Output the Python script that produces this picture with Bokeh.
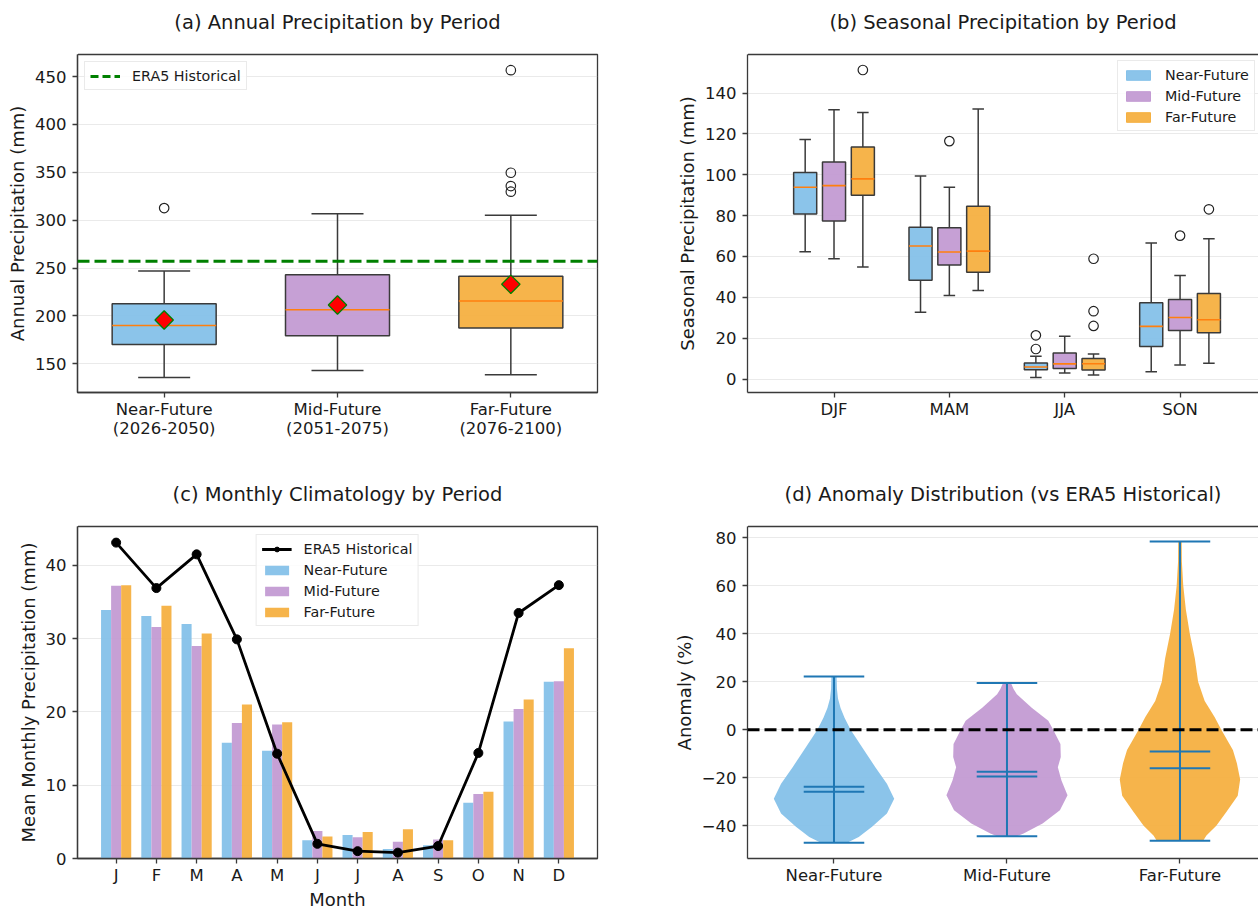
import numpy as np
from bokeh.plotting import figure
from bokeh.models import Range1d, FixedTicker, Legend, LegendItem, LinearAxis, Span
from bokeh.layouts import column, row
from bokeh.embed import file_html
from bokeh.resources import INLINE

FONT = "DejaVu Sans"
TXT = "#1a1a1a"
EDGE = "#3a3a3a"
C_NEAR, C_MID, C_FAR = "#85C1E9", "#C39BD3", "#F5B041"
COLORS = [C_NEAR, C_MID, C_FAR]
MEDIAN_C = "#ff7f0e"
VIOLIN_LINE = "#1f77b4"

# ---------------- data: (a) annual precipitation ----------------
periods = ["Near-Future", "Mid-Future", "Far-Future"]
period_years = ["(2026-2050)", "(2051-2075)", "(2076-2100)"]
annual_low = [135.7, 143.0, 138.5]
annual_q1 = [170.0, 179.3, 187.4]
annual_med = [190.0, 206.5, 215.6]
annual_q3 = [212.8, 243.0, 241.4]
annual_high = [247.0, 306.6, 305.2]
annual_mean = [195.7, 211.4, 233.0]
annual_outliers = [[312.6], [], [329.7, 335.6, 349.5, 456.6]]
era5_annual = 257.0
annual_ticks = [150, 200, 250, 300, 350, 400, 450]

# ---------------- data: (b) seasonal precipitation ----------------
seasons = ["DJF", "MAM", "JJA", "SON"]
near_low = [62.3, 32.7, 0.8, 3.6]
near_q1 = [80.8, 48.4, 4.6, 15.9]
near_med = [93.9, 65.1, 5.9, 25.8]
near_q3 = [101.1, 74.3, 7.9, 37.3]
near_high = [117.3, 99.4, 11.1, 66.6]
near_out = [[], [], [14.7, 21.4], []]
mid_low = [58.9, 40.9, 2.9, 6.9]
mid_q1 = [77.4, 55.8, 5.1, 23.7]
mid_med = [94.7, 62.2, 7.4, 30.1]
mid_q3 = [106.3, 74.1, 12.8, 38.9]
mid_high = [131.8, 93.9, 20.9, 50.7]
mid_out = [[], [116.5], [], [70.2]]
far_low = [54.8, 43.3, 2.0, 7.7]
far_q1 = [90.0, 52.3, 4.4, 22.7]
far_med = [98.0, 62.6, 7.5, 29.0]
far_q3 = [113.6, 84.6, 10.0, 41.9]
far_high = [130.5, 132.2, 12.3, 68.7]
far_out = [[151.3], [], [26.0, 33.2, 58.9], [83.1]]
seasonal_ticks = [0, 20, 40, 60, 80, 100, 120, 140]

# ---------------- data: (c) monthly climatology ----------------
months = ["J", "F", "M", "A", "M", "J", "J", "A", "S", "O", "N", "D"]
era5_monthly = [43.1, 36.9, 41.5, 29.9, 14.3, 2.0, 1.0, 0.8, 1.7, 14.4, 33.5, 37.3]
near_monthly = [33.9, 33.1, 32.0, 15.8, 14.7, 2.5, 3.2, 1.3, 1.8, 7.6, 18.7, 24.1]
mid_monthly = [37.2, 31.6, 29.0, 18.5, 18.3, 3.75, 2.9, 2.3, 2.6, 8.8, 20.4, 24.2]
far_monthly = [37.3, 34.5, 30.7, 21.0, 18.6, 3.0, 3.6, 4.0, 2.5, 9.1, 21.7, 28.7]
monthly_ticks = [0, 10, 20, 30, 40]

# ---------------- data: (d) anomaly distribution ----------------
anom_min = [-47.0, -44.3, -46.2]
anom_max = [22.2, 19.5, 78.4]
anom_mean = [-23.7, -17.5, -9.1]
anom_median = [-25.8, -19.5, -16.0]
# violin outlines: levels (%) and half widths (x units)
near_levels = [22.2, 17.0, 13.0, 9.0, 5.0, 0.0, -8.7, -15.6, -22.5, -28.7, -34.9, -40.4, -44.6, -47.0]
near_half = [0.015, 0.017, 0.023, 0.038, 0.061, 0.096, 0.176, 0.239, 0.306, 0.348, 0.306, 0.220, 0.143, 0.076]
mid_levels = [19.5, 17.0, 14.8, 9.2, 3.7, 0.0, -5.9, -11.4, -15.6, -21.1, -27.3, -33.5, -39.0, -43.2, -44.3]
mid_half = [0.023, 0.038, 0.057, 0.143, 0.239, 0.267, 0.309, 0.311, 0.294, 0.315, 0.350, 0.306, 0.206, 0.096, 0.057]
far_levels = [78.4, 70.0, 60.0, 50.0, 40.0, 29.7, 20.0, 12.0, 5.2, 0.0, -8.4, -13.9, -20.7, -27.5, -34.3, -40.0, -44.0, -46.2]
far_half = [0.010, 0.011, 0.019, 0.034, 0.057, 0.086, 0.105, 0.143, 0.201, 0.239, 0.306, 0.329, 0.348, 0.334, 0.267, 0.210, 0.153, 0.134]
anomaly_ticks = [-40, -20, 0, 20, 40, 60, 80]


def minus(v):
    return str(v).replace("-", "\u2212")


def style(p):
    p.outline_line_color = EDGE
    p.outline_line_width = 1.3
    p.background_fill_color = "white"
    p.border_fill_color = "white"
    p.title.text_font = FONT
    p.title.text_font_size = "19.5px"
    p.title.text_font_style = "normal"
    p.title.text_color = TXT
    p.title.align = "center"
    p.title.standoff = 10
    for ax in p.axis:
        ax.major_label_text_font = FONT
        ax.major_label_text_font_size = "16.5px"
        ax.major_label_text_color = TXT
        ax.axis_label_text_font = FONT
        ax.axis_label_text_font_size = "18px"
        ax.axis_label_text_font_style = "normal"
        ax.axis_label_text_color = TXT
        ax.axis_line_color = EDGE
        ax.axis_line_width = 1.3
        ax.major_tick_line_color = EDGE
        ax.major_tick_line_width = 1.3
        ax.major_tick_out = 5
        ax.major_tick_in = 0
        ax.minor_tick_line_color = None
        ax.major_label_standoff = 6
        ax.axis_label_standoff = 4
    p.xgrid.visible = False
    p.ygrid.grid_line_color = "#d0d0d0"
    p.ygrid.grid_line_alpha = 0.45
    p.ygrid.grid_line_width = 1.2


def legend_style(lg):
    lg.label_text_font = FONT
    lg.label_text_font_size = "14.3px"
    lg.label_text_color = TXT
    lg.glyph_width = 30
    lg.glyph_height = 12
    lg.label_height = 17
    lg.label_standoff = 12
    lg.spacing = 4
    lg.padding = 5
    lg.border_line_color = "#d5d5d5"
    lg.border_line_width = 1
    lg.background_fill_alpha = 0.85


def top_edge(p, draw_line):
    # blank axis above the frame: one white 16px tick at the left edge keeps the
    # title clear of the frame; it also draws the top frame edge where the right
    # edge of the panel is cut off
    start = p.x_range.start
    ax = LinearAxis(ticker=FixedTicker(ticks=[start]), major_label_overrides={start: ""},
                    major_label_text_font_size="0px", major_label_standoff=0,
                    major_tick_out=16, major_tick_in=0,
                    major_tick_line_color="white", major_tick_line_width=1,
                    minor_tick_line_color=None,
                    axis_line_color=EDGE if draw_line else None, axis_line_width=1.3)
    p.add_layout(ax, "above")
    return ax


TOP_H, BOT_H = 460, 452
LEFT_W, RIGHT_W = 670, 588
NAN1 = [np.nan]

# ======================= (a) =======================
pa = figure(width=LEFT_W, height=TOP_H, output_backend="svg", toolbar_location=None,
            title="(a) Annual Precipitation by Period",
            x_range=Range1d(0.5, 3.5), y_range=Range1d(120, 473),
            min_border_left=77, min_border_right=73, min_border_top=54, min_border_bottom=68)
xa = [1, 2, 3]
pa.add_layout(Span(location=era5_annual, dimension="width", line_color="green",
                   line_width=3, line_dash="12 5"))
era5_key = pa.line(x=NAN1 * 2, y=NAN1 * 2, line_color="green", line_width=3, line_dash="8 4")
pa.segment(x0=xa, y0=annual_low, x1=xa, y1=annual_q1, line_color=EDGE, line_width=1.5)
pa.segment(x0=xa, y0=annual_q3, x1=xa, y1=annual_high, line_color=EDGE, line_width=1.5)
pa.segment(x0=[x - 0.15 for x in xa], y0=annual_low, x1=[x + 0.15 for x in xa], y1=annual_low,
           line_color=EDGE, line_width=1.5)
pa.segment(x0=[x - 0.15 for x in xa], y0=annual_high, x1=[x + 0.15 for x in xa], y1=annual_high,
           line_color=EDGE, line_width=1.5)
pa.vbar(x=xa, bottom=annual_q1, top=annual_q3, width=0.6, fill_color=COLORS, fill_alpha=0.95,
        line_color=EDGE, line_width=1.5)
pa.segment(x0=[x - 0.3 for x in xa], y0=annual_med, x1=[x + 0.3 for x in xa], y1=annual_med,
           line_color=MEDIAN_C, line_width=1.6)
ox, oy = [], []
for x, outs in zip(xa, annual_outliers):
    for v in outs:
        ox.append(x)
        oy.append(v)
pa.scatter(x=ox, y=oy, marker="circle", size=9.5, fill_color=None, line_color="#222222", line_width=1.2)
pa.scatter(x=xa, y=annual_mean, marker="square", angle=np.pi / 4, size=13,
           fill_color="red", line_color="green", line_width=1.3)
pa.xaxis.ticker = FixedTicker(ticks=xa)
pa.xaxis.major_label_overrides = {x: f"{n}\n{y}" for x, n, y in zip(xa, periods, period_years)}
pa.yaxis.ticker = FixedTicker(ticks=annual_ticks)
pa.yaxis.axis_label = "Annual Precipitation (mm)"
style(pa)
pa.xaxis.major_label_standoff = 2
pa.xaxis.major_label_text_line_height = 1.0
top_edge(pa, False)
lga = Legend(items=[LegendItem(label="ERA5 Historical", renderers=[era5_key])],
             location="top_left", margin=7)
legend_style(lga)
pa.add_layout(lga)

# ======================= (b) =======================
pb = figure(width=RIGHT_W, height=TOP_H, output_backend="svg", toolbar_location=None,
            title="(b) Seasonal Precipitation by Period",
            x_range=Range1d(-0.75, 3.68), y_range=Range1d(-6.6, 158.9),
            min_border_left=77, min_border_right=0, min_border_top=54, min_border_bottom=68)
xs = list(range(len(seasons)))
offsets = [-0.25, 0.0, 0.25]
stats = [
    (near_low, near_q1, near_med, near_q3, near_high, near_out),
    (mid_low, mid_q1, mid_med, mid_q3, mid_high, mid_out),
    (far_low, far_q1, far_med, far_q3, far_high, far_out),
]
key_renderers = []
for (lo, q1, md, q3, hi, outs), off, col in zip(stats, offsets, COLORS):
    px = [x + off for x in xs]
    pb.segment(x0=px, y0=lo, x1=px, y1=q1, line_color=EDGE, line_width=1.5)
    pb.segment(x0=px, y0=q3, x1=px, y1=hi, line_color=EDGE, line_width=1.5)
    pb.segment(x0=[x - 0.05 for x in px], y0=lo, x1=[x + 0.05 for x in px], y1=lo,
               line_color=EDGE, line_width=1.5)
    pb.segment(x0=[x - 0.05 for x in px], y0=hi, x1=[x + 0.05 for x in px], y1=hi,
               line_color=EDGE, line_width=1.5)
    pb.vbar(x=px, bottom=q1, top=q3, width=0.2, fill_color=col, fill_alpha=0.95,
            line_color=EDGE, line_width=1.5)
    key_renderers.append(pb.vbar(x=NAN1, top=NAN1, width=0.2, fill_color=col, fill_alpha=0.95,
                                 line_color=col, line_width=1))
    pb.segment(x0=[x - 0.1 for x in px], y0=md, x1=[x + 0.1 for x in px], y1=md,
               line_color=MEDIAN_C, line_width=1.6)
    ox, oy = [], []
    for x, o in zip(px, outs):
        for v in o:
            ox.append(x)
            oy.append(v)
    pb.scatter(x=ox, y=oy, marker="circle", size=9.5, fill_color=None, line_color="#222222", line_width=1.2)
pb.xaxis.ticker = FixedTicker(ticks=xs)
pb.xaxis.major_label_overrides = {x: s for x, s in zip(xs, seasons)}
pb.yaxis.ticker = FixedTicker(ticks=seasonal_ticks)
pb.yaxis.axis_label = "Seasonal Precipitation (mm)"
style(pb)
pb.xaxis.major_label_standoff = 2
top_edge(pb, True)
pb.outline_line_color = None
lgb = Legend(items=[LegendItem(label=n, renderers=[r]) for n, r in zip(periods, key_renderers)],
             location=(370, 261))
legend_style(lgb)
pb.add_layout(lgb)

# ======================= (c) =======================
pc = figure(width=LEFT_W, height=BOT_H, output_backend="svg", toolbar_location=None,
            title="(c) Monthly Climatology by Period",
            x_range=Range1d(-0.96, 11.96), y_range=Range1d(0, 45.3),
            min_border_left=77, min_border_right=73, min_border_top=66, min_border_bottom=48)
xm = list(range(len(months)))
bar_r = []
for vals, off, col in zip([near_monthly, mid_monthly, far_monthly], offsets, COLORS):
    bar_r.append(pc.vbar(x=[x + off for x in xm], top=vals, width=0.25, fill_color=col,
                         fill_alpha=0.95, line_color=None))
era_line = pc.line(x=xm, y=era5_monthly, line_color="black", line_width=2.8)
era_pts = pc.scatter(x=xm, y=era5_monthly, marker="circle", size=9, fill_color="black", line_color="black")
pc.xaxis.ticker = FixedTicker(ticks=xm)
pc.xaxis.major_label_overrides = {x: m for x, m in zip(xm, months)}
pc.yaxis.ticker = FixedTicker(ticks=monthly_ticks)
pc.yaxis.axis_label = "Mean Monthly Precipitation (mm)"
pc.xaxis.axis_label = "Month"
style(pc)
pc.xaxis.major_label_standoff = 2
pc.xaxis.axis_label_standoff = 1
top_edge(pc, False)
lgc = Legend(items=[LegendItem(label="ERA5 Historical", renderers=[era_line, era_pts])] +
             [LegendItem(label=n, renderers=[r]) for n, r in zip(periods, bar_r)],
             location="top_center", margin=8)
legend_style(lgc)
pc.add_layout(lgc)

# ======================= (d) =======================
pd_ = figure(width=RIGHT_W, height=BOT_H, output_backend="svg", toolbar_location=None,
             title="(d) Anomaly Distribution (vs ERA5 Historical)",
             x_range=Range1d(0.5, 3.454), y_range=Range1d(-53.6, 84.6),
             min_border_left=77, min_border_right=0, min_border_top=66, min_border_bottom=48)
xv = [1, 2, 3]
for pos, lv, hw, col in zip(xv, [near_levels, mid_levels, far_levels],
                            [near_half, mid_half, far_half], COLORS):
    px = [pos + h for h in hw] + [pos - h for h in reversed(hw)]
    py = list(lv) + list(reversed(lv))
    pd_.patch(x=px, y=py, fill_color=col, fill_alpha=0.95, line_color=None)
pd_.add_layout(Span(location=0, dimension="width", line_color="black", line_width=3, line_dash="12 5"))
cap = 0.175
pd_.segment(x0=xv, y0=anom_min, x1=xv, y1=anom_max, line_color=VIOLIN_LINE, line_width=2)
for arr in (anom_min, anom_max, anom_mean, anom_median):
    pd_.segment(x0=[x - cap for x in xv], y0=arr, x1=[x + cap for x in xv], y1=arr,
                line_color=VIOLIN_LINE, line_width=2)
pd_.xaxis.ticker = FixedTicker(ticks=xv)
pd_.xaxis.major_label_overrides = {x: n for x, n in zip(xv, periods)}
pd_.yaxis.ticker = FixedTicker(ticks=anomaly_ticks)
pd_.yaxis.major_label_overrides = {t: minus(t) for t in anomaly_ticks}
pd_.yaxis.axis_label = "Anomaly (%)"
style(pd_)
pd_.xaxis.major_label_standoff = 2
top_edge(pd_, True)
pd_.outline_line_color = None

layout = column(row(pa, pb), row(pc, pd_))
open("out.html", "w").write(file_html(layout, INLINE))
